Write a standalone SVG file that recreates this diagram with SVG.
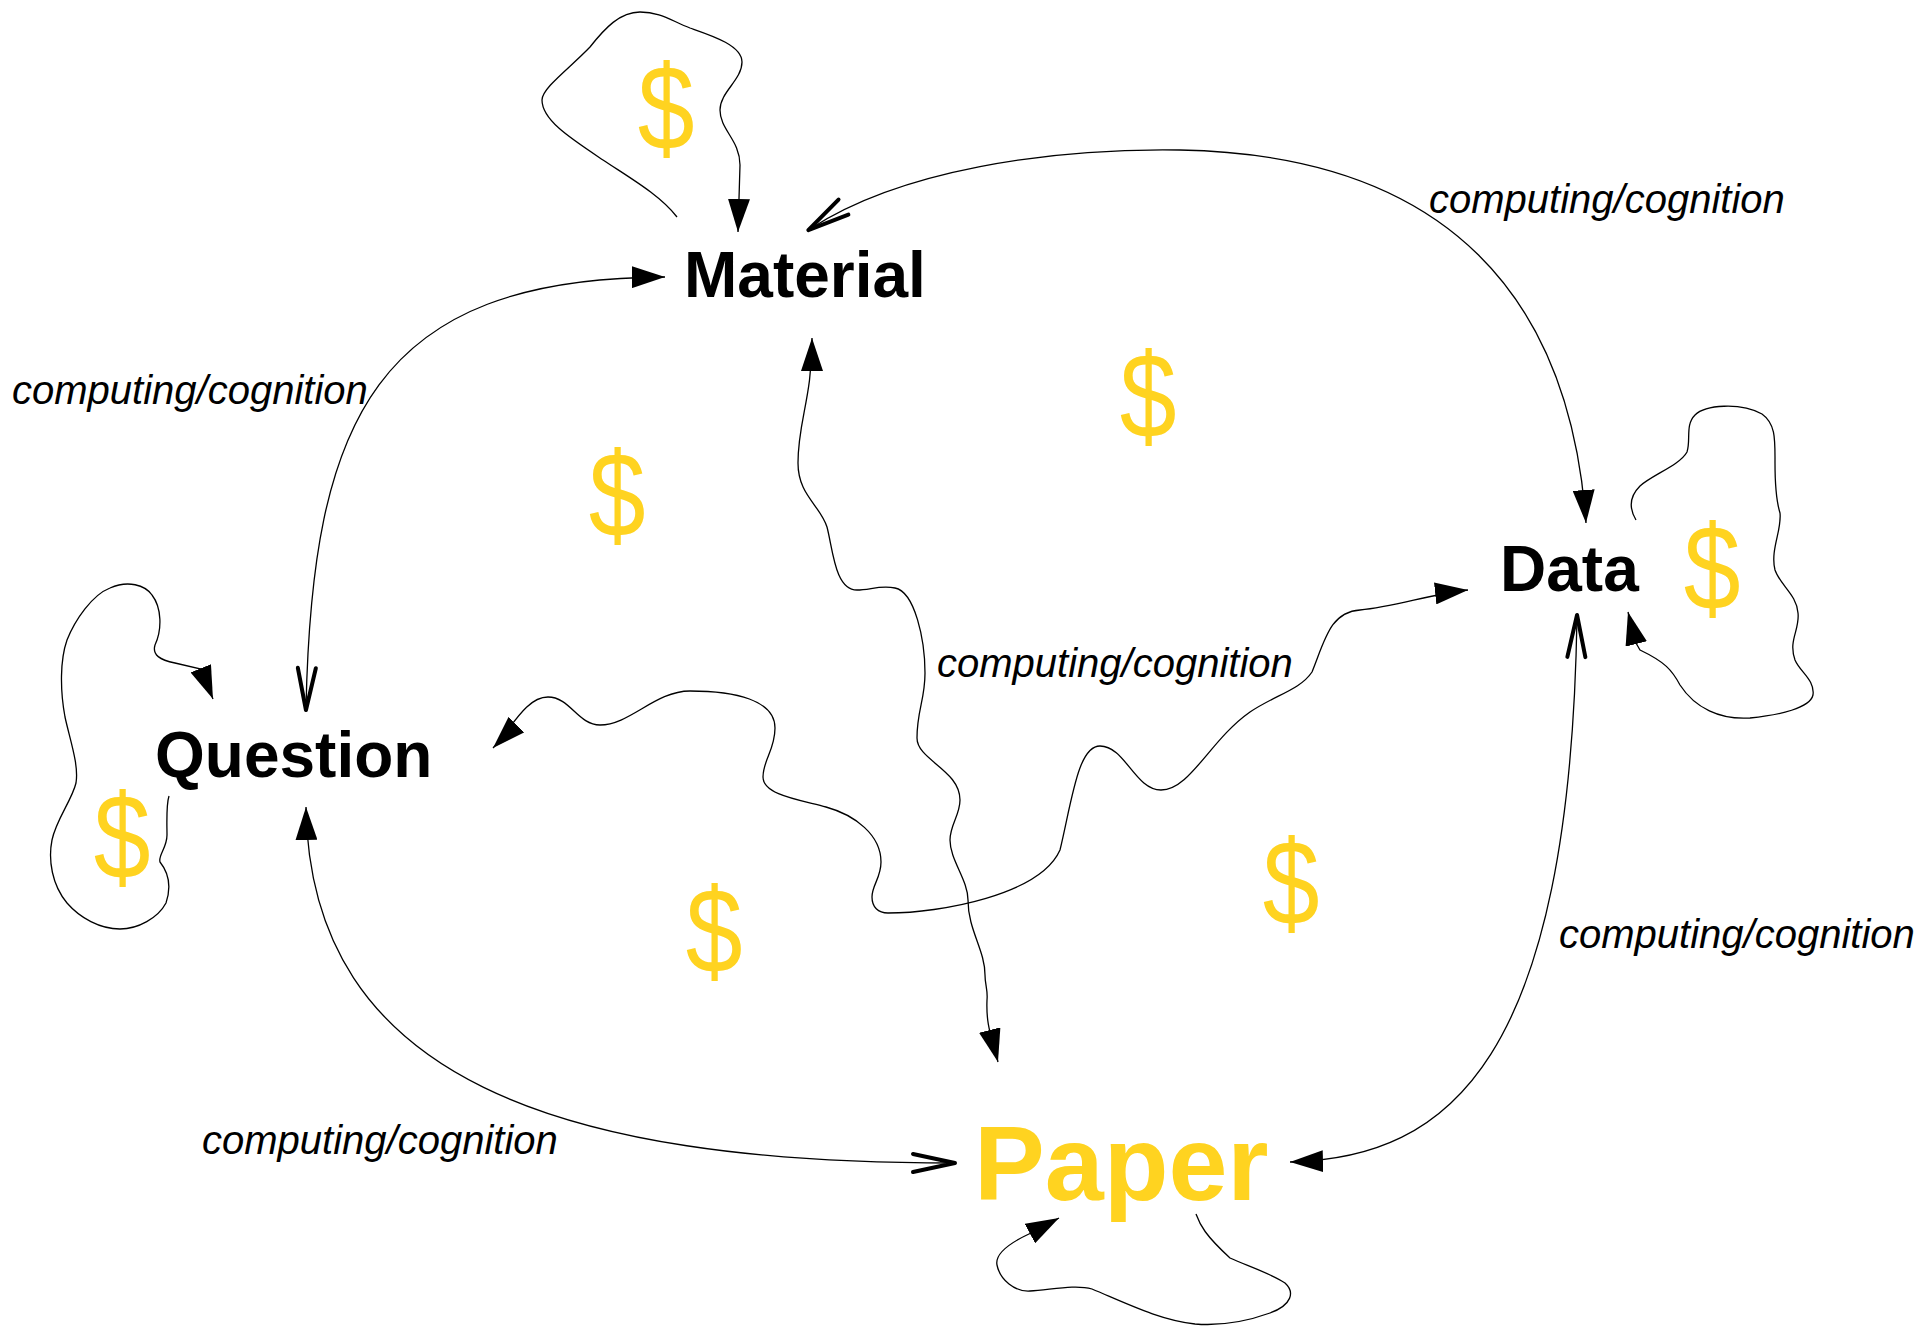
<svg xmlns="http://www.w3.org/2000/svg" width="1920" height="1326" viewBox="0 0 1920 1326">
<style>
.bg{fill:#ffffff}
.node{font-family:"Liberation Sans",Arial,sans-serif;font-weight:bold;font-size:64px;fill:#000000}
.paper{font-size:106px;fill:#FFD320}
.dollar{font-family:"Liberation Sans",Arial,sans-serif;font-size:120px;fill:#FFD320;text-anchor:middle}
.lbl{font-family:"Liberation Sans",Arial,sans-serif;font-style:italic;font-size:40px;fill:#000000}
.edge{fill:none;stroke:#000000;stroke-width:1.3}
.fe{marker-end:url(#fill)}
.fs{marker-start:url(#fill)}
.oe{marker-end:url(#open)}
.os{marker-start:url(#open)}
</style>
<defs>
<marker id="fill" viewBox="0 0 33 22" refX="33" refY="11" markerWidth="33" markerHeight="22" markerUnits="userSpaceOnUse" orient="auto-start-reverse">
<path d="M0,0 L33,11 L0,22 Z" fill="#000000"/>
</marker>
<marker id="open" viewBox="-3 -3 48 24" refX="40" refY="9" markerWidth="48" markerHeight="24" markerUnits="userSpaceOnUse" orient="auto-start-reverse">
<path d="M0,0 L42,9 L0,18" fill="none" stroke="#000000" stroke-width="4" stroke-linecap="round" stroke-linejoin="round"/>
</marker>
</defs>
<rect class="bg" x="0" y="0" width="1920" height="1326"/>

<g id="connectors">
<path id="e-question-material" class="edge os fe" d="M306,708 C312,420 375,278 665,277"/>
<path id="e-material-data" class="edge os fe" d="M810,229 C900,170 1050,148 1180,150 C1450,155 1570,300 1586,523"/>
<path id="e-material-paper" class="edge fs fe" d="M812,338 C812,400 798,420 798,463 C798,495 820,505 827,527 C833,550 835,590 857,590 C870,590 880,585 895,588 C915,592 925,640 925,673 C925,700 917,710 917,738 C917,760 960,770 960,800 C960,815 950,825 950,840 C950,860 968,880 968,900 C968,930 985,950 985,975 C985,985 988,990 987,1000 C986,1025 991,1035 998,1062"/>
<path id="e-question-data" class="edge fs fe" d="M493,748 C510,731 525,697 548,697 C570,697 578,725 600,725 C630,725 655,691 690,691 C735,691 775,700 775,728 C775,750 763,760 763,777 C763,795 800,800 826,807 C855,815 881,835 881,862 C881,878 872,885 872,897 C872,907 878,913 888,913 C940,913 1040,895 1060,850 C1072,800 1078,746 1100,746 C1125,746 1135,790 1161,790 C1190,790 1210,740 1250,712 C1275,695 1300,690 1312,672 C1325,640 1330,612 1360,610 C1395,607 1430,594 1468,590"/>
<path id="e-question-paper" class="edge fs oe" d="M306,807 C310,1080 560,1163 953,1163"/>
<path id="e-data-paper" class="edge os fe" d="M1577,617 C1570,1060 1450,1158 1290,1162"/>
<path id="loop-material" class="edge fe" d="M677,217 C660,195 630,178 603,160 C570,138 542,120 542,100 C542,88 570,68 590,47 C605,28 620,12 640,12 C660,12 670,20 690,28 C710,35 742,45 742,62 C742,80 720,92 720,110 C720,130 740,140 740,165 L738,232"/>
<path id="loop-question" class="edge fe" d="M169,796 C166,805 167,825 167,835 C167,848 158,855 160,862 C168,872 172,885 166,903 C158,918 138,929 120,929 C100,929 80,918 67,903 C52,885 48,860 52,840 C56,820 72,800 76,783 C79,765 70,740 65,717 C60,690 60,660 67,640 C75,620 92,595 110,588 C128,580 145,585 152,595 C162,608 162,630 155,645 C152,655 160,660 175,663 L201,669 L213,699"/>
<path id="loop-data" class="edge fe" d="M1636,520 C1630,510 1628,498 1640,486 C1652,475 1680,465 1687,452 C1691,440 1685,425 1695,415 C1705,405 1740,402 1762,414 C1776,424 1775,440 1775,463 C1775,485 1776,500 1780,513 C1782,530 1770,550 1775,570 C1780,585 1797,595 1798,613 C1800,630 1788,640 1795,660 C1800,672 1815,680 1813,695 C1810,708 1780,715 1750,718 C1720,720 1695,708 1680,685 C1672,670 1665,662 1640,650 L1636,643 L1628,612"/>
<path id="loop-paper" class="edge fe" d="M1196,1214 C1200,1225 1205,1235 1230,1258 C1245,1265 1270,1273 1285,1283 C1295,1292 1292,1305 1270,1313 C1245,1322 1220,1326 1195,1324 C1160,1320 1130,1305 1092,1289 C1075,1284 1050,1290 1030,1291 C1015,1292 1000,1280 997,1265 C995,1255 1005,1245 1031,1233 L1059,1218"/>
</g>

<g id="labels">
<text class="lbl" x="1429" y="213">computing/cognition</text>
<text class="lbl" x="12" y="404">computing/cognition</text>
<text class="lbl" x="937" y="677">computing/cognition</text>
<text class="lbl" x="1559" y="948">computing/cognition</text>
<text class="lbl" x="202" y="1154">computing/cognition</text>
</g>

<g id="money">
<text class="dollar" transform="translate(666,149) scale(0.85,1)">$</text>
<text class="dollar" transform="translate(1148,437) scale(0.85,1)">$</text>
<text class="dollar" transform="translate(617,536) scale(0.85,1)">$</text>
<text class="dollar" transform="translate(1712,609) scale(0.85,1)">$</text>
<text class="dollar" transform="translate(122,878) scale(0.85,1)">$</text>
<text class="dollar" transform="translate(714,972) scale(0.85,1)">$</text>
<text class="dollar" transform="translate(1291,924) scale(0.85,1)">$</text>
</g>

<g id="node-material"><text class="node" x="684" y="297">Material</text></g>
<g id="node-question"><text class="node" x="155" y="777">Question</text></g>
<g id="node-data"><text class="node" x="1500" y="591">Data</text></g>
<g id="node-paper"><text class="node paper" x="974" y="1200">Paper</text></g>
</svg>
